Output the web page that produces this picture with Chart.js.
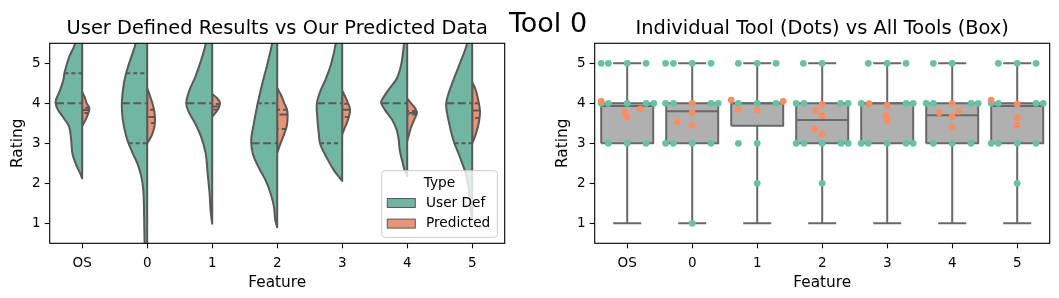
<!DOCTYPE html>
<html>
<head>
<meta charset="utf-8">
<script src="https://cdn.jsdelivr.net/npm/chart.js@4.4.1/dist/chart.umd.min.js"></script>
<style>
  body { margin: 0; background: #fff; }
  #wrap { position: relative; width: 1059px; height: 298px; }
  canvas { position: absolute; top: 0; display: block; }
  #leftChart { left: 0; }
  #rightChart { left: 530px; }
  #suptitle { position: absolute; top: 7px; left: 548px; transform: translateX(-50%);
              font: 27px 'DejaVu Sans', sans-serif; white-space: nowrap; color: #000; }
</style>
</head>
<body>
<div id="wrap">
  <canvas id="leftChart" width="530" height="298"></canvas>
  <canvas id="rightChart" width="529" height="298"></canvas>
  <div id="suptitle">Tool 0</div>
</div>
<script>
// Categories and ticks
const features = ['OS', '0', '1', '2', '3', '4', '5'];
const ratingTicks = [1, 2, 3, 4, 5];
const hueNames = ['User Def', 'Predicted'];

// Violin halves: [rating, half width], top to bottom
const userDefShape = [
  [[5.49,0.11],[5.16,0.20],[4.78,0.27],[4.58,0.29],[4.33,0.34],[4.03,0.41],[3.83,0.37],[3.62,0.28],[3.41,0.20],[3.08,0.17],[2.74,0.15],[2.49,0.10],[2.24,0.03],[2.12,0]],
  [[5.49,0.18],[5.16,0.245],[4.83,0.31],[4.49,0.36],[4.0,0.39],[3.58,0.375],[3.16,0.32],[2.83,0.245],[2.49,0.15],[2.16,0.09],[1.83,0.06],[1.41,0.05],[0.91,0.045],[0.49,0.04]],
  [[5.49,0.10],[5.08,0.17],[4.66,0.26],[4.33,0.35],[4.0,0.40],[3.78,0.36],[3.49,0.26],[3.16,0.17],[2.74,0.10],[2.24,0.07],[1.74,0.04],[1.32,0.025],[0.99,0]],
  [[5.49,0.08],[4.99,0.15],[4.49,0.23],[4.0,0.30],[3.49,0.36],[3.08,0.40],[2.74,0.375],[2.41,0.29],[2.08,0.18],[1.74,0.10],[1.41,0.05],[1.08,0.03],[0.9,0]],
  [[5.49,0.10],[4.99,0.17],[4.58,0.26],[4.33,0.33],[4.0,0.39],[3.58,0.38],[3.24,0.36],[2.99,0.34],[2.66,0.245],[2.33,0.13],[2.16,0.05],[2.06,0]],
  [[5.49,0.05],[4.99,0.09],[4.62,0.16],[4.33,0.29],[4.08,0.39],[4.0,0.40],[3.83,0.34],[3.58,0.23],[3.33,0.16],[3.08,0.13],[2.83,0.115],[2.58,0.08],[2.33,0.04],[2.18,0]],
  [[5.49,0.08],[4.99,0.19],[4.49,0.31],[4.0,0.40],[3.58,0.365],[3.08,0.29],[2.66,0.19],[2.24,0.10],[1.83,0.05],[1.41,0.03],[1.08,0]]
];
const predictedShape = [
  [[4.28,0],[4.15,0.04],[4.0,0.07],[3.88,0.11],[3.78,0.10],[3.65,0.07],[3.52,0.03],[3.43,0]],
  [[4.38,0],[4.2,0.04],[4.0,0.08],[3.8,0.11],[3.6,0.12],[3.4,0.11],[3.2,0.07],[3.05,0.02],[3.0,0]],
  [[4.23,0],[4.12,0.08],[4.0,0.12],[3.88,0.10],[3.78,0.06],[3.67,0]],
  [[4.38,0],[4.2,0.06],[4.0,0.11],[3.85,0.15],[3.7,0.16],[3.45,0.15],[3.2,0.10],[2.95,0.04],[2.75,0]],
  [[4.32,0],[4.15,0.05],[4.0,0.09],[3.85,0.12],[3.7,0.11],[3.5,0.07],[3.35,0.03],[3.22,0]],
  [[4.12,0],[4.0,0.06],[3.88,0.12],[3.76,0.15],[3.6,0.11],[3.4,0.06],[3.2,0.025],[3.06,0]],
  [[4.53,0],[4.35,0.05],[4.1,0.09],[3.8,0.12],[3.5,0.10],[3.2,0.05],[3.0,0]]
];

// Inner quartile lines
const userDefMedian = [4, 4, 4, 3, 4, 4, 4];
const userDefQuartiles = [[4.75], [4.75, 3], [], [4], [3], [], [3]];
const predictedMedian = [3.83, 3.66, 3.92, 3.72, 3.84, 3.76, 3.82];
const predictedQuartiles = [[3.76, 3.89], [3.51, 3.84], [3.84, 3.98], [3.36, 3.84], [3.66, 3.99], [3.72, 3.81], [3.63, 4.0]];

// Box plot of all tools
const boxQ1 = [3, 3, 3.44, 3, 3, 3, 3];
const boxQ3 = [4, 4, 4, 4, 4, 4, 4];
const boxMedian = [3.93, 3.8, 4, 3.58, 4, 3.7, 3.93];
const whiskerLow = [1, 1, 1, 1, 1, 1, 1];
const whiskerHigh = [5, 5, 5, 5, 5, 5, 5];

// Individual tool dots: [offset in the feature slot, rating]
const toolUserDef = [
  [[-0.40,5],[-0.29,5],[0,5],[0.29,5],[-0.40,4],[-0.29,4],[0,4],[0.29,4],[0.41,4],[-0.29,3],[0,3],[0.29,3]],
  [[-0.41,5],[-0.29,5],[0,5],[0.29,5],[-0.41,4],[-0.29,4],[0.29,4],[0.40,4],[-0.41,3],[-0.29,3],[0,3],[0.29,3],[0,1]],
  [[-0.29,5],[0,5],[0.29,5],[-0.29,4],[0,4],[0.29,4],[-0.29,3],[0,3],[0,2]],
  [[-0.29,5],[0,5],[-0.40,4],[-0.28,4],[0.28,4],[0.40,4],[-0.40,3],[-0.28,3],[0,3],[0.29,3],[0.40,3],[0,2]],
  [[-0.29,5],[0,5],[0.29,5],[-0.40,4],[0.29,4],[0.40,4],[-0.40,3],[-0.29,3],[0,3],[0.29,3],[0.40,3]],
  [[-0.29,5],[0,5],[-0.40,4],[-0.29,4],[0.29,4],[0.40,4],[-0.29,3],[0,3],[0.29,3]],
  [[-0.29,5],[0,5],[0.29,5],[-0.40,4],[-0.29,4],[0.29,4],[0.40,4],[-0.40,3],[-0.29,3],[0,3],[0.29,3],[0,2]]
];
const toolPredicted = [
  [[-0.40,4.05],[-0.04,3.78],[0,3.66],[0.20,3.86]],
  [[0,4.0],[0,3.77],[-0.23,3.53],[0,3.45]],
  [[-0.40,4.08],[0.40,4.05],[-0.29,3.85],[0,3.83]],
  [[0,3.97],[-0.10,3.82],[0,3.69],[-0.12,3.36],[0,3.23]],
  [[-0.28,3.99],[0,3.95],[-0.02,3.69],[0,3.57]],
  [[0,3.99],[-0.20,3.77],[0.10,3.80],[0,3.67],[0,3.41]],
  [[-0.40,4.08],[0,3.98],[0,3.64],[0,3.45]]
];

// Styles
Chart.defaults.font.family = "'DejaVu Sans', sans-serif";
Chart.defaults.color = '#000';
const userDefFill = '#71b6a1', predictedFill = '#e99575', violinEdge = '#595959';
const boxFill = '#b0b0b0', boxEdge = '#686868';
const dotColors = ['#66c2a5', '#fc8d62'];
const yMin = 0.5, yMax = 5.5;
const plotBottom = 243.3;

function lineSet(points, color, width, extra) {
  return Object.assign({
    type: 'line', data: points, borderColor: color, borderWidth: width,
    pointRadius: 0, pointHoverRadius: 0, fill: false, tension: 0, clip: 0,
    borderCapStyle: 'butt'
  }, extra);
}

// half width of a violin half at a given rating
function halfWidthAt(profile, r) {
  for (let k = 0; k < profile.length - 1; k++) {
    const [r0, w0] = profile[k], [r1, w1] = profile[k + 1];
    if (r <= r0 && r >= r1) return w0 + (w1 - w0) * (r0 - r) / (r0 - r1);
  }
  return 0;
}

// closed outline of one violin half: edge, then back up the centre line
function outline(profile, i, side) {
  const pts = profile.map(([r, w]) => ({ x: i + side * w, y: r }));
  // carry cut-off ends past the axes so the clip makes them flat
  if (profile[0][0] > yMax - 0.05) pts.unshift({ x: pts[0].x, y: yMax + 0.2 });
  if (profile[profile.length - 1][0] < yMin + 0.05) pts.push({ x: pts[pts.length - 1].x, y: yMin - 0.2 });
  const yt = pts[0].y, yb = pts[pts.length - 1].y;
  pts.push({ x: i, y: yb }, { x: i, y: yb }, { x: i, y: yt }, { x: i, y: yt });
  return pts;
}

function quartileLine(profile, i, side, r, dash) {
  const w = halfWidthAt(profile, r);
  return lineSet([{ x: i + side * w, y: r }, { x: i, y: r }], violinEdge, 2, { borderDash: dash, order: 1 });
}

// Left: split violins
const violinSets = [];
features.forEach((name, i) => {
  violinSets.push(lineSet(outline(userDefShape[i], i, -1), violinEdge, 2,
    { fill: 'shape', backgroundColor: userDefFill, tension: 0.35, capBezierPoints: false, borderJoinStyle: 'round', order: 2 }));
  violinSets.push(lineSet(outline(predictedShape[i], i, 1), violinEdge, 2,
    { fill: 'shape', backgroundColor: predictedFill, tension: 0.35, capBezierPoints: false, borderJoinStyle: 'round', order: 2 }));
  userDefQuartiles[i].forEach(r => violinSets.push(quartileLine(userDefShape[i], i, -1, r, [4, 3])));
  violinSets.push(quartileLine(userDefShape[i], i, -1, userDefMedian[i], [8, 3.5]));
  predictedQuartiles[i].forEach(r => violinSets.push(quartileLine(predictedShape[i], i, 1, r, [4, 3])));
  violinSets.push(quartileLine(predictedShape[i], i, 1, predictedMedian[i], [8, 3.5]));
});

// Right: boxes with dots
const boxSets = [];
features.forEach((name, i) => {
  const q1 = boxQ1[i], q3 = boxQ3[i];
  boxSets.push(lineSet([{x: i - 0.4, y: q1}, {x: i + 0.4, y: q1}, {x: i + 0.4, y: q3}, {x: i - 0.4, y: q3}, {x: i - 0.4, y: q1}],
    boxEdge, 2, { fill: 'shape', backgroundColor: boxFill, borderJoinStyle: 'miter', order: 4 }));
  boxSets.push(lineSet([{x: i - 0.4, y: boxMedian[i]}, {x: i + 0.4, y: boxMedian[i]}], boxEdge, 2, { order: 3 }));
  boxSets.push(lineSet([{x: i, y: whiskerLow[i]}, {x: i, y: q1}], boxEdge, 2, { order: 3 }));
  boxSets.push(lineSet([{x: i, y: q3}, {x: i, y: whiskerHigh[i]}], boxEdge, 2, { order: 3 }));
  boxSets.push(lineSet([{x: i - 0.2, y: whiskerLow[i]}, {x: i + 0.2, y: whiskerLow[i]}], boxEdge, 2, { order: 3, borderCapStyle: 'square' }));
  boxSets.push(lineSet([{x: i - 0.2, y: whiskerHigh[i]}, {x: i + 0.2, y: whiskerHigh[i]}], boxEdge, 2, { order: 3, borderCapStyle: 'square' }));
});
[toolUserDef, toolPredicted].forEach((dots, k) => {
  boxSets.push({
    type: 'scatter',
    label: hueNames[k],
    data: dots.flatMap((list, i) => list.map(([dx, r]) => ({ x: i + dx, y: r }))),
    backgroundColor: dotColors[k], borderWidth: 0, pointRadius: 3.4, pointHoverRadius: 3.4,
    clip: 4, order: 2 - k
  });
});

// Plugins
const spines = {
  id: 'spines',
  afterDatasetsDraw(chart) {
    const { ctx, chartArea: a } = chart;
    ctx.save();
    ctx.strokeStyle = '#000';
    ctx.lineWidth = 1.1;
    ctx.strokeRect(a.left, a.top, a.right - a.left, a.bottom - a.top);
    ctx.restore();
  }
};

const typeLegend = {
  id: 'typeLegend',
  afterDraw(chart) {
    const { ctx, chartArea: a } = chart;
    const w = 115.6, h = 66.6;
    const x0 = a.right - 7.4 - w, y0 = a.bottom - 6 - h;
    ctx.save();
    ctx.beginPath();
    ctx.roundRect(x0, y0, w, h, 3);
    ctx.fillStyle = 'rgba(255,255,255,0.8)';
    ctx.fill();
    ctx.strokeStyle = '#cccccc';
    ctx.lineWidth = 1;
    ctx.stroke();
    ctx.font = "13.7px 'DejaVu Sans'";
    ctx.fillStyle = '#000';
    ctx.textAlign = 'center';
    ctx.textBaseline = 'alphabetic';
    ctx.fillText('Type', x0 + w / 2, y0 + 16.6);
    [userDefFill, predictedFill].forEach((fill, k) => {
      const cy = y0 + 32.3 + k * 20.6;
      ctx.fillStyle = fill;
      ctx.fillRect(x0 + 5.6, cy - 4.5, 28, 9);
      ctx.strokeStyle = violinEdge;
      ctx.strokeRect(x0 + 5.6, cy - 4.5, 28, 9);
      ctx.fillStyle = '#000';
      ctx.textAlign = 'left';
      ctx.textBaseline = 'middle';
      ctx.fillText(hueNames[k], x0 + 44.3, cy);
    });
    ctx.restore();
  }
};

function chartOptions(cfg) {
  const grid = { drawOnChartArea: false, tickLength: 5, tickColor: '#000', tickWidth: 1.1 };
  return {
    responsive: false,
    animation: false,
    devicePixelRatio: 1,
    events: [],
    layout: { padding: { left: 0, right: cfg.padRight, top: 0, bottom: 0 } },
    plugins: {
      legend: { display: false },
      tooltip: { enabled: false },
      title: {
        display: true, text: cfg.title, color: '#000', fullSize: false,
        font: { size: 19.4, weight: 'normal' }, padding: { top: 16.9, bottom: 3.1 }
      }
    },
    scales: {
      x: {
        type: 'linear', min: -0.5, max: 6.5,
        afterFit: s => { s.height = 298 - plotBottom; },
        afterBuildTicks: s => { s.ticks = features.map((_, i) => ({ value: i })); },
        ticks: { callback: v => features[v], font: { size: 13.5 }, color: '#000', padding: 7, maxRotation: 0, autoSkip: false },
        grid: grid,
        border: { display: false },
        title: { display: true, text: 'Feature', color: '#000', font: { size: 15.3 }, padding: { top: 0, bottom: 6 } }
      },
      y: {
        type: 'linear', min: yMin, max: yMax,
        afterFit: s => { s.width = cfg.plotLeft; },
        afterBuildTicks: s => { s.ticks = ratingTicks.map(v => ({ value: v })); },
        ticks: { font: { size: 13.5 }, color: '#000', padding: 4 },
        grid: grid,
        border: { display: false },
        title: { display: true, text: 'Rating', color: '#000', font: { size: 15.3 }, padding: { top: cfg.titlePad, bottom: 0 } }
      }
    }
  };
}

new Chart(document.getElementById('leftChart'), {
  type: 'line',
  data: { datasets: violinSets },
  options: chartOptions({ title: 'User Defined Results vs Our Predicted Data', plotLeft: 49.7, padRight: 25.3, titlePad: 8.5 }),
  plugins: [spines, typeLegend]
});

new Chart(document.getElementById('rightChart'), {
  type: 'line',
  data: { datasets: boxSets },
  options: chartOptions({ title: 'Individual Tool (Dots) vs All Tools (Box)', plotLeft: 64.7, padRight: 9.3, titlePad: 23.7 }),
  plugins: [spines]
});
</script>
</body>
</html>
